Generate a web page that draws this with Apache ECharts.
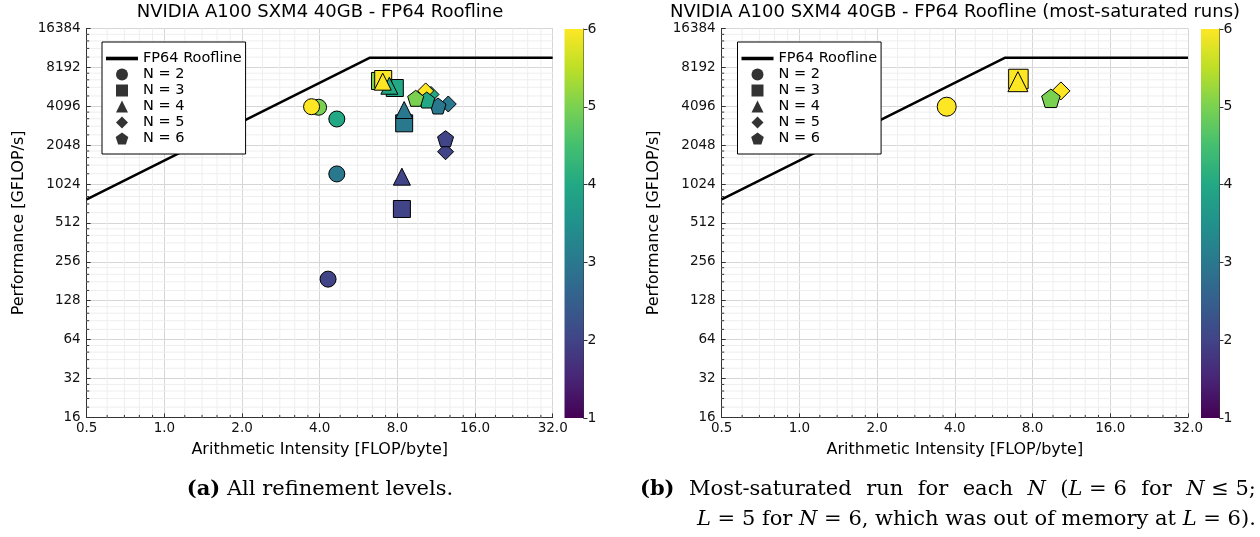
<!DOCTYPE html>
<html>
<head>
<meta charset="utf-8">
<script src="https://cdn.jsdelivr.net/npm/echarts@6/dist/echarts.min.js"></script>
<style>
  html, body { margin: 0; padding: 0; background: #fff; }
  #chart { width: 1260px; height: 537px; }
</style>
</head>
<body>
<div id="chart"></div>
<script>
// Benchmark runs per polynomial degree N:
// refinement level L, arithmetic intensity [FLOP/byte], performance [GFLOP/s]
const n2Level = [2, 3, 4, 5, 6];
const n2Intensity = [4.31, 4.66, 4.66, 3.96, 3.72];
const n2Perf = [188, 1225, 3260, 4020, 4060];

const n3Level = [2, 3, 4, 5, 6];
const n3Intensity = [8.33, 8.5, 7.82, 6.85, 7.05];
const n3Perf = [656, 3020, 5665, 6420, 6650];

const n4Level = [2, 3, 4, 6];
const n4Intensity = [8.33, 8.5, 7.45, 7.02];
const n4Perf = [1167, 3827, 5900, 6340];

const n5Level = [2, 3, 4, 6];
const n5Intensity = [12.3, 12.6, 10.8, 10.3];
const n5Perf = [1820, 4260, 5050, 5380];

const n6Level = [2, 3, 4, 5];
const n6Intensity = [12.3, 11.5, 10.4, 9.42];
const n6Perf = [2295, 4110, 4573, 4715];

// FP64 roofline vertices (memory-bound slope up to the ridge, then compute peak)
const rooflineIntensity = [0.5, 6.24, 32];
const rooflinePerf = [777, 9700, 9700];

// Axis ticks
const xTicks = [0.5, 1, 2, 4, 8, 16, 32];
const yTicks = [16, 32, 64, 128, 256, 512, 1024, 2048, 4096, 8192, 16384];
const minorSteps = [1.2, 1.4, 1.6, 1.8];
const colorbarTicks = [1, 2, 3, 4, 5, 6];

const FONT = 'DejaVu Sans';
const SERIF = 'DejaVu Serif';

const viridis = ['#440154', '#482475', '#414487', '#355f8d', '#2a788e', '#21918c',
                 '#22a884', '#44bf70', '#7ad151', '#bddf26', '#fde725'];

const PENTAGON = 'path://M0,-1 L0.951,-0.309 L0.588,0.809 L-0.588,0.809 L-0.951,-0.309 Z';
const runs = [
  { n: 2, level: n2Level, x: n2Intensity, y: n2Perf, symbol: 'circle', icon: 'circle', size: 16, bigSize: 19 },
  { n: 3, level: n3Level, x: n3Intensity, y: n3Perf, symbol: 'rect',
    icon: 'path://M0,0 L10,0 L10,10 L0,10 Z', size: 17, bigSize: 19.5 },
  { n: 4, level: n4Level, x: n4Intensity, y: n4Perf, symbol: 'triangle',
    icon: 'path://M5,0 L10,10 L0,10 Z', size: 17, bigSize: 20 },
  { n: 5, level: n5Level, x: n5Intensity, y: n5Perf, symbol: 'diamond',
    icon: 'path://M5,0 L10,5 L5,10 L0,5 Z', size: 16, bigSize: 18 },
  { n: 6, level: n6Level, x: n6Intensity, y: n6Perf, symbol: PENTAGON, icon: PENTAGON, size: 16, bigSize: 18.5 }
];

const xMin = xTicks[0], xMax = xTicks[xTicks.length - 1];
const yMin = yTicks[0], yMax = yTicks[yTicks.length - 1];
const xMinor = [];
xTicks.slice(0, -1).forEach(t => minorSteps.forEach(s => xMinor.push(+(t * s).toFixed(4))));
const yMinor = [];
yTicks.slice(0, -1).forEach(t => minorSteps.forEach(s => yMinor.push(+(t * s).toFixed(4))));

const plotGrids = [
  { left: 86.7, top: 28.4, width: 466, height: 389 },
  { left: 721.7, top: 28.4, width: 466.3, height: 389 }
];
const barGrids = [
  { left: 564.5, top: 29, width: 19, height: 389 },
  { left: 1201, top: 29, width: 18.5, height: 389 }
];

const xAxes = [], yAxes = [], series = [], legends = [];
const scatterIdx = [];

function mainAxes(gi) {
  xAxes.push({
    type: 'log', logBase: 2, gridIndex: gi, min: xMin, max: xMax, interval: 1,
    name: 'Arithmetic Intensity [FLOP/byte]', nameLocation: 'middle', nameGap: 24,
    nameTextStyle: { fontSize: 16, color: '#000', fontFamily: FONT },
    axisLine: { lineStyle: { color: '#333', width: 1 } },
    axisTick: { inside: true, length: 4, lineStyle: { color: '#333' } },
    axisLabel: { formatter: v => Number(v).toFixed(1), fontSize: 13.5, color: '#111', margin: 4, fontFamily: FONT },
    splitLine: { show: true, lineStyle: { color: '#d6d6d6', width: 1 } }
  });
  yAxes.push({
    type: 'log', logBase: 2, gridIndex: gi, min: yMin, max: yMax, interval: 1,
    name: 'Performance [GFLOP/s]', nameLocation: 'middle', nameGap: 60,
    nameTextStyle: { fontSize: 16, color: '#000', fontFamily: FONT },
    axisLine: { show: true, lineStyle: { color: '#333', width: 1 } },
    axisTick: { show: true, inside: true, length: 4, lineStyle: { color: '#333' } },
    axisLabel: { formatter: v => String(Math.round(v)), fontSize: 13.5, color: '#111', margin: 6, fontFamily: FONT },
    splitLine: { show: true, lineStyle: { color: '#d6d6d6', width: 1 } }
  });
}

function colorbarAxes(gi) {
  xAxes.push({
    type: 'category', gridIndex: gi, data: [''],
    axisLine: { show: false }, axisTick: { show: false }, axisLabel: { show: false }, splitLine: { show: false }
  });
  yAxes.push({
    type: 'value', gridIndex: gi, position: 'right',
    min: colorbarTicks[0], max: colorbarTicks[colorbarTicks.length - 1], interval: 1,
    axisLine: { show: true, lineStyle: { color: '#333' } },
    axisTick: { show: true, inside: false, length: 4, lineStyle: { color: '#333' } },
    axisLabel: { fontSize: 14, color: '#111', margin: 4, fontFamily: FONT },
    splitLine: { show: false }
  });
}

// Light minor grid lines and short minor ticks at 1.2/1.4/1.6/1.8 × each power of two
function minorGrid(ai) {
  const data = [];
  xMinor.forEach(v => data.push([v, yMin, 0]));
  yMinor.forEach(v => data.push([xMin, v, 1]));
  return {
    type: 'custom', xAxisIndex: ai, yAxisIndex: ai, silent: true, z: 1, clip: false,
    data,
    renderItem(params, api) {
      const vertical = api.value(2) === 0;
      let a, b, t;
      if (vertical) {
        a = api.coord([api.value(0), yMin]);
        b = api.coord([api.value(0), yMax]);
        t = [a[0], a[1] - 2.5];
      } else {
        a = api.coord([xMin, api.value(1)]);
        b = api.coord([xMax, api.value(1)]);
        t = [a[0] + 2.5, a[1]];
      }
      return {
        type: 'group',
        children: [
          { type: 'line', shape: { x1: a[0], y1: a[1], x2: b[0], y2: b[1] }, style: { stroke: '#eeeeee', lineWidth: 1 } },
          { type: 'line', shape: { x1: a[0], y1: a[1], x2: t[0], y2: t[1] }, style: { stroke: '#333', lineWidth: 1 } }
        ]
      };
    }
  };
}

function roofline(ai) {
  return {
    name: 'FP64 Roofline', type: 'line', xAxisIndex: ai, yAxisIndex: ai, z: 3,
    symbol: 'none', silent: true, color: '#000',
    itemStyle: { color: '#000' },
    lineStyle: { color: '#000', width: 2.5 },
    data: rooflineIntensity.map((x, i) => [x, rooflinePerf[i]])
  };
}

function legendFor(left) {
  return {
    left, top: 42, orient: 'vertical', selectedMode: false,
    itemWidth: 32, itemHeight: 12, itemGap: 1,
    padding: [9, 4, 8, 4],
    backgroundColor: '#fff', borderColor: '#000', borderWidth: 1, borderRadius: 0,
    textStyle: { fontSize: 14.5, color: '#000', fontFamily: FONT },
    data: [{ name: 'FP64 Roofline', icon: 'path://M0,0 L32,0 L32,3.6 L0,3.6 Z', itemStyle: { color: '#000' } }]
      .concat(runs.map(r => ({ name: 'N = ' + r.n, icon: r.icon, itemStyle: { color: '#000' } })))
  };
}

// Left panel: every refinement level
mainAxes(0);
series.push(minorGrid(0));
series.push(roofline(0));
runs.forEach(r => {
  scatterIdx.push(series.length);
  series.push({
    name: 'all N' + r.n, type: 'scatter', xAxisIndex: 0, yAxisIndex: 0, z: 5,
    symbol: r.symbol, symbolSize: r.size,
    itemStyle: { borderColor: '#000', borderWidth: 1, opacity: 1 },
    data: r.x.map((x, i) => [x, r.y[i], r.level[i]])
  });
});

// Right panel: the most-saturated (highest level) run for each N
mainAxes(1);
series.push(minorGrid(1));
series.push(roofline(1));
runs.forEach(r => {
  let k = 0;
  r.level.forEach((l, i) => { if (l > r.level[k]) k = i; });
  scatterIdx.push(series.length);
  series.push({
    name: 'top N' + r.n, type: 'scatter', xAxisIndex: 1, yAxisIndex: 1, z: 5,
    symbol: r.symbol, symbolSize: r.bigSize,
    itemStyle: { borderColor: '#000', borderWidth: 1, opacity: 1 },
    data: [[r.x[k], r.y[k], r.level[k]]]
  });
});

// Legend-only marker entries (black glyphs)
runs.forEach(r => {
  series.push({
    name: 'N = ' + r.n, type: 'scatter', xAxisIndex: 0, yAxisIndex: 0,
    symbol: r.symbol, color: '#000', itemStyle: { color: '#000' }, data: []
  });
});

// Colorbars for refinement level L
const cbGradient = new echarts.graphic.LinearGradient(0, 0, 0, 1,
  viridis.slice().reverse().map((c, i) => ({ offset: i / (viridis.length - 1), color: c })));
[2, 3].forEach(ai => {
  colorbarAxes(ai);
  series.push({
    type: 'bar', xAxisIndex: ai, yAxisIndex: ai, stack: 'cb' + ai, silent: true, barWidth: '100%',
    itemStyle: { color: 'rgba(0,0,0,0)' }, data: [colorbarTicks[0]]
  });
  series.push({
    type: 'bar', xAxisIndex: ai, yAxisIndex: ai, stack: 'cb' + ai, silent: true, barWidth: '100%',
    itemStyle: { color: cbGradient },
    data: [colorbarTicks[colorbarTicks.length - 1] - colorbarTicks[0]]
  });
});

legends.push(legendFor(102));
legends.push(legendFor(737.5));

const capRich = {
  b: { fontWeight: 'bold', fontSize: 21, fontFamily: SERIF },
  i: { fontStyle: 'italic', fontSize: 21, fontFamily: SERIF },
  s: { width: 14.5, fontSize: 21, fontFamily: SERIF }
};

const chart = echarts.init(document.getElementById('chart'), null, { renderer: 'canvas' });
chart.setOption({
  animation: false,
  backgroundColor: '#fff',
  grid: plotGrids.concat(barGrids),
  xAxis: xAxes,
  yAxis: yAxes,
  legend: legends,
  visualMap: [{
    type: 'continuous', show: false, min: 1, max: 6, dimension: 2,
    seriesIndex: scatterIdx, inRange: { color: viridis }
  }],
  series,
  graphic: [
    { type: 'text', x: 320, y: 12, style: { text: 'NVIDIA A100 SXM4 40GB - FP64 Roofline', align: 'center', verticalAlign: 'middle', fontSize: 18, fontFamily: FONT, fill: '#000' } },
    { type: 'text', x: 955, y: 12, style: { text: 'NVIDIA A100 SXM4 40GB - FP64 Roofline (most-saturated runs)', align: 'center', verticalAlign: 'middle', fontSize: 18, fontFamily: FONT, fill: '#000' } },
    { type: 'text', x: 320, y: 490, style: {
        text: '{b|(a)} All refinement levels.', align: 'center', verticalAlign: 'middle',
        fontSize: 21, fontFamily: SERIF, fill: '#000', rich: capRich } },
    { type: 'text', x: 640, y: 490, style: {
        text: '{b|(b)}{s| }Most-saturated{s| }run{s| }for{s| }each{s| }{i|N}{s| }({i|L} = 6{s| }for{s| }{i|N} ≤ 5;',
        align: 'left', verticalAlign: 'middle',
        fontSize: 21, fontFamily: SERIF, fill: '#000', rich: capRich } },
    { type: 'text', x: 697, y: 520, style: {
        text: '{i|L} = 5 for {i|N} = 6, which was out of memory at {i|L} = 6).', align: 'left', verticalAlign: 'middle',
        fontSize: 21, fontFamily: SERIF, fill: '#000', rich: capRich } }
  ]
});
</script>
</body>
</html>
